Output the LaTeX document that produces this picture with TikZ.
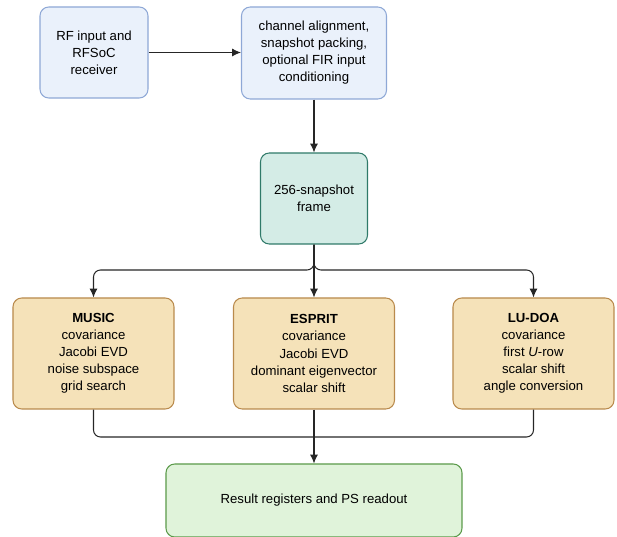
\documentclass[tikz,border=0pt]{standalone}
\usepackage{fontspec}
\setmainfont{Liberation Sans}
\usetikzlibrary{arrows.meta}

\definecolor{inblue}{HTML}{EAF1FB}
\definecolor{inblueline}{HTML}{8EA8D6}
\definecolor{framefill}{HTML}{D4ECE6}
\definecolor{frameline}{HTML}{2F7A69}
\definecolor{algfill}{HTML}{F5E2B9}
\definecolor{algline}{HTML}{B98A4C}
\definecolor{outfill}{HTML}{E0F3DA}
\definecolor{outline}{HTML}{5B9A4A}

\begin{document}
\begin{tikzpicture}[font=\fontsize{7.5}{9.7}\selectfont, >={Latex[length=5pt,width=4.5pt]},
  box/.style={draw, rounded corners=5pt, align=center, inner sep=2pt, line width=0.6pt},
  inbox/.style={box, fill=inblue, draw=inblueline},
  algbox/.style={box, fill=algfill, draw=algline, minimum width=3.22cm, minimum height=2.22cm},
  flow/.style={->, line width=0.6pt, draw=black!85, rounded corners=4pt}]
\useasboundingbox (0,0) rectangle (12.34,-10.74);
\node[inbox, minimum width=2.16cm, minimum height=1.82cm] (rf) at (1.88,-1.05)
  {RF input and\\RFSoC\\receiver};
\node[inbox, minimum width=2.9cm, minimum height=1.84cm] (prep) at (6.28,-1.06)
  {channel alignment,\\snapshot packing,\\optional FIR input\\conditioning};
\node[box, fill=framefill, draw=frameline, minimum width=2.14cm, minimum height=1.82cm] (frame) at (6.28,-3.97)
  {256-snapshot\\frame};
\node[algbox] (music)  at (1.87,-7.07)  {\textbf{MUSIC}\\covariance\\Jacobi EVD\\noise subspace\\grid search};
\node[algbox] (esprit) at (6.28,-7.07)  {\textbf{ESPRIT}\\covariance\\Jacobi EVD\\dominant eigenvector\\scalar shift};
\node[algbox] (ludoa)  at (10.67,-7.07) {\textbf{LU-DOA}\\covariance\\first \textit{U}-row\\scalar shift\\angle conversion};
\node[box, fill=outfill, draw=outline, minimum width=5.92cm, minimum height=1.46cm] (result) at (6.28,-10.01)
  {Result registers and PS readout};
\coordinate (split) at (6.28,-5.4);
\coordinate (join)  at (6.28,-8.74);
\draw[flow] (rf.east) -- (rf.east -| prep.west);
\draw[flow] (prep) -- (frame);
\draw[flow] (frame.south) -- (split) -| (music.north);
\draw[flow] (frame.south) -- (esprit.north);
\draw[flow] (frame.south) -- (split) -| (ludoa.north);
\draw[flow, -] (music.south) |- (join);
\draw[flow, -] (ludoa.south) |- (join);
\draw[flow] (esprit.south) -- (result.north);
\end{tikzpicture}
\end{document}
